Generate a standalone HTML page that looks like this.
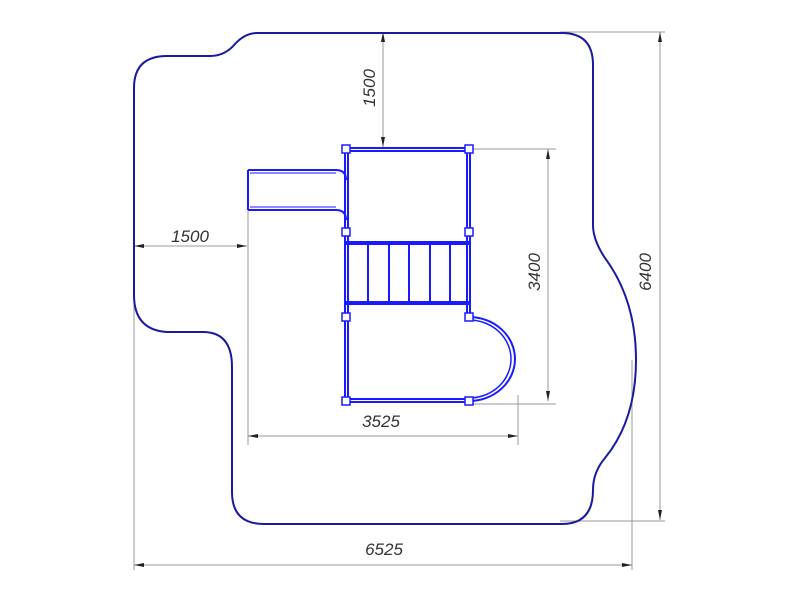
<!DOCTYPE html>
<html><head><style>body{margin:0;background:#fff}svg{display:block}text{font-family:"Liberation Sans",sans-serif;font-style:italic;font-size:17px;fill:#333}</style></head><body>
<svg width="800" height="600" viewBox="0 0 800 600">
<defs><marker id="a" viewBox="0 0 10 4" refX="10" refY="2" markerWidth="10" markerHeight="4" orient="auto-start-reverse" markerUnits="userSpaceOnUse"><path d="M0,0L10,2L0,4z" fill="#222"/></marker></defs>
<g stroke="#999" stroke-width="1" fill="none">
<line x1="383" y1="32" x2="383" y2="147" marker-start="url(#a)" marker-end="url(#a)"/>
<line x1="134" y1="246" x2="247" y2="246" marker-start="url(#a)" marker-end="url(#a)"/>
<line x1="548" y1="149" x2="548" y2="401" marker-start="url(#a)" marker-end="url(#a)"/>
<line x1="470" y1="149" x2="556" y2="149"/><line x1="470" y1="404" x2="556" y2="404"/>
<line x1="248" y1="436" x2="518" y2="436" marker-start="url(#a)" marker-end="url(#a)"/>
<line x1="248" y1="210" x2="248" y2="445"/><line x1="518" y1="395" x2="518" y2="445"/>
<line x1="660" y1="32" x2="660" y2="520" marker-start="url(#a)" marker-end="url(#a)"/>
<line x1="560" y1="32" x2="665" y2="32"/><line x1="560" y1="521" x2="665" y2="521"/>
<line x1="134" y1="565" x2="632" y2="565" marker-start="url(#a)" marker-end="url(#a)"/>
<line x1="134" y1="300" x2="134" y2="570"/><line x1="632" y1="360" x2="632" y2="570"/>
</g>
<path d="M257,33 L562,33 Q593,33 593,65 L593,225 Q593,240 605,258 Q636,300 636,360 Q636,420 605,458 Q593,472 593,490 Q593,524 562,524 L264,524 Q232,524 232,492 L232,367 Q232,332 203,332 L167,332 Q134,330 134,295 L134,88 Q134,56 167,56 L210,56 Q225,56 235,44 Q245,33 257,33 Z" fill="none" stroke="#1a1aa0" stroke-width="2"/>
<g stroke="#1a1aff" stroke-width="2" fill="none">
<path d="M248,170 L336,170 Q346,170 346,180 M248,210 L336,210 Q346,210 346,220 M248,170 L248,210"/>
<path d="M250,173 L336,173 M250,207 L336,207" stroke-width="1"/>
<rect x="346" y="148" width="123" height="3"/>
<rect x="345" y="149" width="3" height="252"/>
<rect x="467" y="149" width="3" height="168"/>
<rect x="346" y="399" width="123" height="3"/>
<rect x="346" y="242" width="123" height="2"/><rect x="346" y="302" width="123" height="2"/>
<path d="M368,244V302M389,244V302M409,244V302M430,244V302M450,244V302"/>
<path d="M469,317 A46,42 0 0 1 469,401"/><path d="M469,320 A42,39 0 0 1 469,398" stroke-width="1.5"/>
</g>
<g fill="#fff" stroke="#1a1aff" stroke-width="1.5">
<rect x="342" y="145" width="8" height="8"/><rect x="465" y="145" width="8" height="8"/>
<rect x="342" y="228" width="8" height="8"/><rect x="465" y="228" width="8" height="8"/>
<rect x="342" y="313" width="8" height="8"/><rect x="465" y="313" width="8" height="8"/>
<rect x="342" y="397" width="8" height="8"/><rect x="465" y="397" width="8" height="8"/>
</g>
<text x="375" y="88" transform="rotate(-90 375 88)" text-anchor="middle">1500</text>
<text x="190" y="242" text-anchor="middle">1500</text>
<text x="381" y="427" text-anchor="middle">3525</text>
<text x="540" y="272" transform="rotate(-90 540 272)" text-anchor="middle">3400</text>
<text x="651" y="272" transform="rotate(-90 651 272)" text-anchor="middle">6400</text>
<text x="384" y="555" text-anchor="middle">6525</text>
</svg></body></html>
